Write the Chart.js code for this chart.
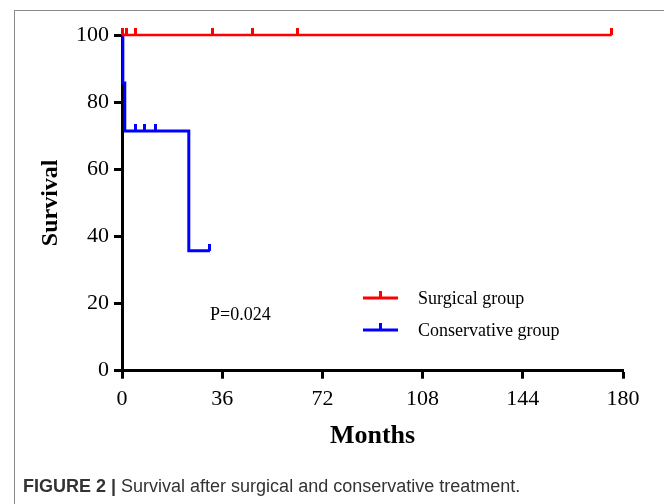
<!DOCTYPE html>
<html>
<head>
<meta charset="utf-8">
<script src="https://cdn.jsdelivr.net/npm/chart.js@4/dist/chart.umd.min.js"></script>
<style>
  html, body { margin: 0; padding: 0; background: #fff; }
  #wrap { position: relative; width: 664px; height: 504px; overflow: hidden; }
  #frame {
    position: absolute; left: 14px; top: 10px; width: 700px; height: 600px;
    border-top: 1.5px solid #8a8a8a; border-left: 1.5px solid #8a8a8a;
  }
  #chart { position: absolute; left: 0; top: 0; }
  #caption {
    position: absolute; left: 23px; top: 476px;
    font-family: "Liberation Sans", Arial, sans-serif; font-size: 18px; color: #333;
  }
  #caption b { font-weight: bold; }
</style>
</head>
<body>
<div id="wrap">
  <div id="frame"></div>
  <canvas id="chart" width="664" height="504"></canvas>
  <div id="caption"><b>FIGURE 2 |</b> Survival after surgical and conservative treatment.</div>
</div>
<script>
// Kaplan-Meier steps (months, survival %)
const surgicalTimes = [0, 176];
const surgicalSurv = [100, 100];
const surgicalCensored = [0.3, 1.7, 4.7, 32.6, 47, 63, 176];

const conservTimes = [0, 0.3, 1, 24, 31.6];
const conservSurv = [100, 85.7, 71.4, 35.7, 35.7];
const conservCensored = [4.7, 8, 11.9, 31.6];

const xTicks = [0, 36, 72, 108, 144, 180];
const yTicks = [0, 20, 40, 60, 80, 100];

const serif = '"Liberation Serif", "Times New Roman", serif';

// survival level at time t from a step curve
function survAt(times, surv, t) {
    let s = surv[0];
    for (let i = 0; i < times.length; i++) {
        if (times[i] <= t) s = surv[i];
    }
    return s;
}

// small vertical tick used as the censor mark (only above the line)
function censorMark(color) {
    const c = document.createElement('canvas');
    c.width = 3;
    c.height = 14;
    const g = c.getContext('2d');
    g.fillStyle = color;
    g.fillRect(0, 0, 3, 7);
    return c;
}

const redMark = censorMark('#ff0000');
const blueMark = censorMark('#0000ff');

// legend + p value drawn inside the plot
const notesPlugin = {
    id: 'notes',
    afterDatasetsDraw(chart) {
        const ctx = chart.ctx;
        ctx.save();
        ctx.font = '18px ' + serif;
        ctx.fillStyle = '#000';
        ctx.textBaseline = 'middle';
        ctx.fillText('P=0.024', 210, 315);

        const items = [
            { label: 'Surgical group', color: '#ff0000', y: 298 },
            { label: 'Conservative group', color: '#0000ff', y: 330 }
        ];
        items.forEach(it => {
            ctx.strokeStyle = it.color;
            ctx.lineWidth = 3;
            ctx.beginPath();
            ctx.moveTo(363, it.y);
            ctx.lineTo(398, it.y);
            ctx.moveTo(380.5, it.y);
            ctx.lineTo(380.5, it.y - 7);
            ctx.stroke();
            ctx.fillStyle = '#000';
            ctx.fillText(it.label, 418, it.y + 1);
        });
        ctx.restore();
    }
};

const axisCommon = {
    border: { display: true, color: '#000', width: 3 },
    grid: { display: true, drawOnChartArea: false, drawTicks: true, tickLength: 8, tickWidth: 3, tickColor: '#000' },
};

new Chart(document.getElementById('chart'), {
    type: 'line',
    data: {
        datasets: [
            {
                label: 'Surgical group',
                data: surgicalTimes.map((t, i) => ({ x: t, y: surgicalSurv[i] })),
                borderColor: '#ff0000',
                borderWidth: 2.5,
                stepped: true,
                pointRadius: 0,
                clip: false
            },
            {
                label: 'Surgical censored',
                data: surgicalCensored.map(t => ({ x: t, y: survAt(surgicalTimes, surgicalSurv, t) })),
                showLine: false,
                pointStyle: redMark,
                pointRadius: 5,
                clip: false
            },
            {
                label: 'Conservative group',
                data: conservTimes.map((t, i) => ({ x: t, y: conservSurv[i] })),
                borderColor: '#0000ff',
                borderWidth: 3,
                stepped: true,
                pointRadius: 0,
                clip: false
            },
            {
                label: 'Conservative censored',
                data: conservCensored.map(t => ({ x: t, y: survAt(conservTimes, conservSurv, t) })),
                showLine: false,
                pointStyle: blueMark,
                pointRadius: 5,
                clip: false
            }
        ]
    },
    options: {
        responsive: false,
        animation: false,
        layout: { padding: { left: 14, right: 41, top: 35, bottom: 50 } },
        plugins: {
            legend: { display: false },
            tooltip: { enabled: false }
        },
        scales: {
            x: {
                ...axisCommon,
                type: 'linear',
                min: 0,
                max: 180,
                afterFit: s => { s.height = 83.3; },
                afterBuildTicks: s => { s.ticks = xTicks.map(v => ({ value: v })); },
                ticks: { color: '#000', padding: 7, font: { family: serif, size: 22 } },
                title: {
                    display: true, text: 'Months', color: '#000',
                    font: { family: serif, size: 26, weight: 'bold' },
                    padding: { top: 0, bottom: 2 }
                }
            },
            y: {
                ...axisCommon,
                min: 0,
                max: 100,
                afterFit: s => { s.width = 108; },
                afterBuildTicks: s => { s.ticks = yTicks.map(v => ({ value: v })); },
                ticks: { color: '#000', padding: 5, font: { family: serif, size: 22 } },
                title: {
                    display: true, text: 'Survival', color: '#000',
                    font: { family: serif, size: 24, weight: 'bold' },
                    padding: { top: 22, bottom: 0 }
                }
            }
        }
    },
    plugins: [notesPlugin]
});
</script>
</body>
</html>
